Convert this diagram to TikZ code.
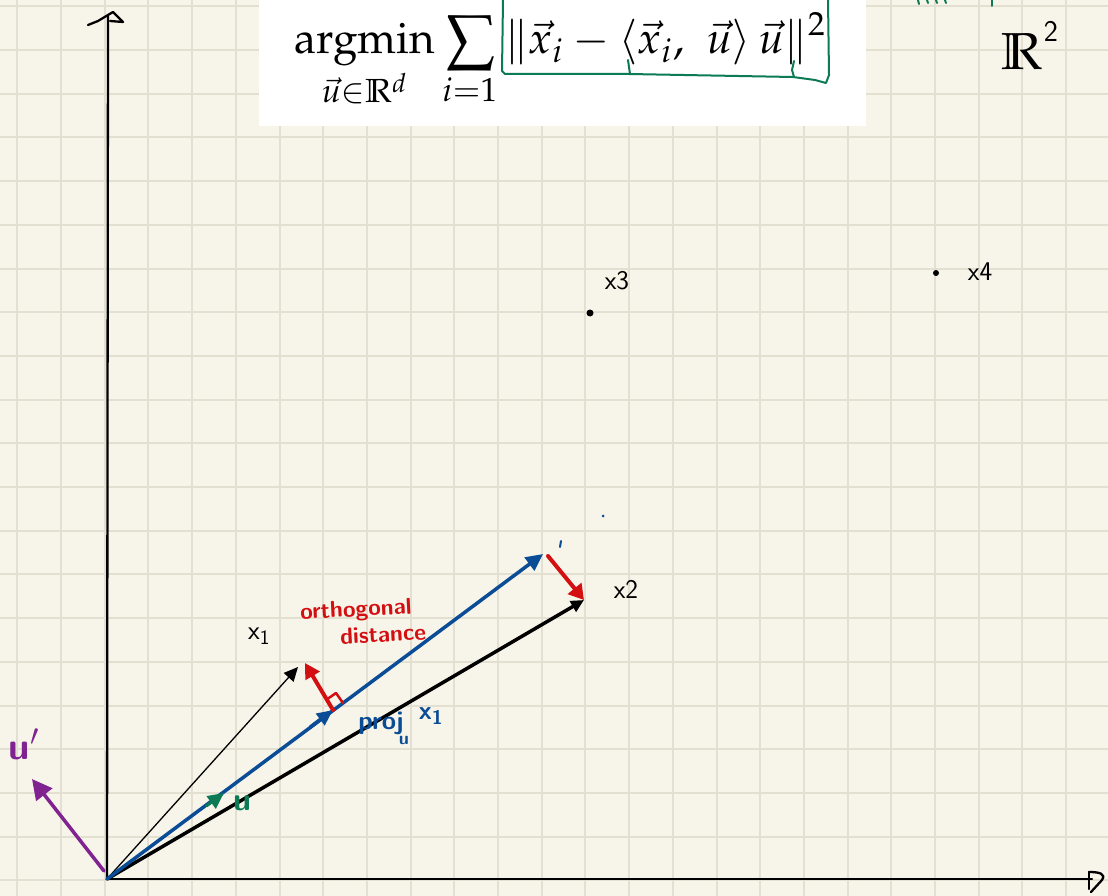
\documentclass[tikz,border=0pt]{standalone}
\usepackage{amsmath,amssymb}
\usepackage{mathpazo}
\usetikzlibrary{arrows.meta,calc}
\definecolor{paper}{HTML}{F7F5E9}
\definecolor{gridc}{HTML}{E3E0D2}
\definecolor{penblue}{HTML}{0B4C96}
\definecolor{penred}{HTML}{D40F12}
\definecolor{pengreen}{HTML}{0B7A55}
\definecolor{penpurple}{HTML}{80228F}
\begin{document}
\begin{tikzpicture}[x=1pt,y=-1pt,line cap=round,line join=round,
  gridline/.style={gridc,line width=2pt},
  axis/.style={black,line width=2.3pt},
  hand/.style={font=\sffamily\fontsize{27}{29}\selectfont,inner sep=0pt},
  redtxt/.style={penred,font=\sffamily\bfseries\fontsize{23}{25}\selectfont,inner sep=0pt},
  bluetxt/.style={penblue,font=\sffamily\bfseries\fontsize{26}{28}\selectfont,inner sep=0pt},
  vtip/.style={-{Triangle[length=14pt,width=13pt]}},
  dot/.style={circle,fill=black,inner sep=0pt,minimum size=7pt}]
\useasboundingbox (0,0) rectangle (1108,896);
\clip (0,0) rectangle (1108,896);
\fill[paper] (0,0) rectangle (1108,896);
\foreach \i in {0,...,25} \draw[gridline] ({17.3+43.7*\i},0) -- ++(0,896);
\foreach \j in {0,...,20} \draw[gridline] (0,{6.3+43.7*\j}) -- ++(1108,0);
% formula box
\fill[white] (259,0) rectangle (866,126);
\node[anchor=base west,inner sep=0pt,scale=4.4] (formula) at (294,54)
  {$\displaystyle \operatorname*{argmin}_{\vec{u}\in\mathbb{R}^d}\sum_{i=1}\|\vec{x}_i-\langle\vec{x}_i,\ \vec{u}\rangle\,\vec{u}\|^2$};
% green hand box
\draw[pengreen,line width=2pt] (503,0) -- (502,71) -- (505,74) -- (629,74) -- (793,77) -- (815,80) -- (826,83) -- (829,75) -- (828,0);
\draw[pengreen,line width=2pt] (628,60) -- (630,74);
\draw[pengreen,line width=2pt] (794,61) -- (792,70) -- (794,77);
\foreach \a/\b/\c/\d in {918/0/919/4, 927/0/928/3, 936/0/937/3, 945/0/946/3, 992/0/992/6}
  \draw[pengreen,line width=2pt] (\a,\b) -- (\c,\d);
% R^2
\node[inner sep=0pt,scale=5.2] (R) at (1022,52) {$\mathbb{R}$};
\node[hand,font=\sffamily\fontsize{30}{32}\selectfont] (Rtwo) at (1051,31) {2};
% coordinates
\coordinate (O) at (107,879);
\coordinate (Ytop) at (108,16);
\coordinate (Xend) at (1092,879);
\coordinate (X1) at (298,667);
\coordinate (R1) at (305,663);
\coordinate (X2) at (584,600);
\coordinate (Q) at (543,554);
\coordinate (Qs) at (548,556);
\coordinate (P) at (333,710);
\coordinate (G) at (224,793);
\coordinate (Ustart) at (104,871);
\coordinate (Uprime) at (32,779);
% axes
\draw[axis] (O) -- (Ytop);
\draw[axis] (O) -- (Xend);
\draw[axis] (88,25) -- (98,21) -- (113,12) -- (123,22) -- (110,21);
\draw[axis] (1089,872) -- (1089,889);
\draw[axis] (1089,872) .. controls (1100,872) and (1106,874) .. (1102,880) -- (1091,892);
% points
\node[dot] (x3) at (590,313) {};
\node[dot,minimum size=6pt] (x4) at (936,273) {};
\node[hand,anchor=center] (x3lab) at (617,281) {x3};
\node[hand,anchor=center] (x4lab) at (980,272) {x4};
% vectors
\draw[black,line width=1.3pt,vtip] (O) -- (X1);
\draw[black,line width=3.5pt,-{Triangle[length=13pt,width=12pt]}] (O) -- (X2);
\draw[penblue,line width=3.5pt,-{Triangle[length=17pt,width=16pt]}] (O) -- (Q);
\draw[penblue,line width=3.5pt,-{Triangle[length=16pt,width=14pt]}] ($(O)!0.9!(P)$) -- (P);
\draw[pengreen,line width=3pt,-{Triangle[length=16pt,width=15pt]}] ($(O)!0.85!(G)$) -- (G);
\draw[penred,line width=4pt,-{Triangle[length=15pt,width=17pt]}] (Qs) -- (X2);
\draw[penred,line width=4pt,-{Triangle[length=15pt,width=16pt]}] (P) -- (R1);
\draw[penred,line width=2.5pt] ($(P)+(-7,-10)$) -- ++(10,-7) -- ++(7,10);
\draw[penpurple,line width=3.5pt,-{Triangle[length=20pt,width=20pt]}] (Ustart) -- (Uprime);
% small blue marks
\draw[penblue,line width=2pt] (561,541) -- (560,547);
\fill[penblue] (603,516) circle (1.5);
% labels
\node[hand] (x1lab) at (259,636) {x\textsubscript{1}};
\node[hand] (x2lab) at (626,589) {x2};
\node[redtxt,rotate=3] (orth) at (356,611) {orthogonal};
\node[redtxt,rotate=3] (dist) at (383,634) {distance};
\node[bluetxt] (proj) at (381,723) {proj};
\node[bluetxt,font=\sffamily\bfseries\fontsize{18}{20}\selectfont] (projsub) at (404,740) {u};
\node[bluetxt] (projx) at (431,716) {x\textsubscript{1}};
\node[pengreen,font=\sffamily\bfseries\fontsize{32}{34}\selectfont,inner sep=0pt] (ulab) at (242,803) {u};
\node[penpurple,font=\sffamily\bfseries\fontsize{38}{40}\selectfont,inner sep=0pt] (uplab) at (24,744) {u$'$};
\end{tikzpicture}
\end{document}
